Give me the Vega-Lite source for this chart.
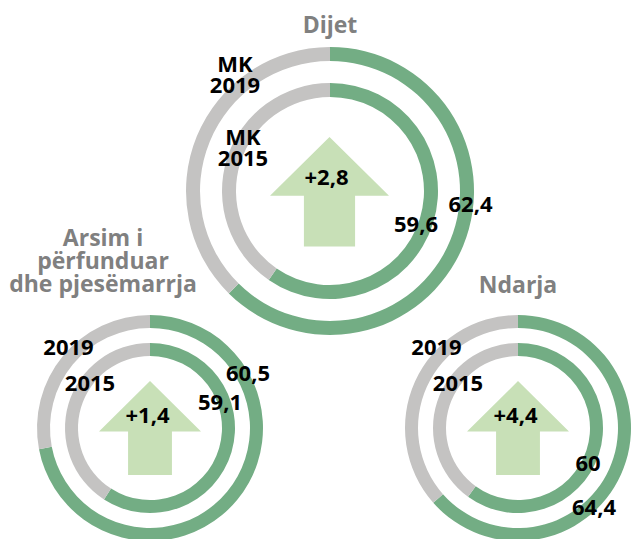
{
  "$schema": "https://vega.github.io/schema/vega-lite/v6.json",
  "width": 633,
  "height": 539,
  "autosize": {"type": "fit", "contains": "padding"},
  "padding": 0,
  "background": "#ffffff",
  "config": {
    "view": {"stroke": null},
    "locale": {"number": {"decimal": ",", "thousands": ".", "grouping": [3], "currency": ["", " €"]}},
    "text": {"font": "Open Sans", "fontWeight": "bold", "fontSize": 22, "baseline": "alphabetic", "align": "center", "color": "#000000"}
  },
  "datasets": {
    "rings": [
      {"indicator": "Dijet", "tier": "top", "year": 2019, "ringLabel": "MK\n2019", "value": 62.4, "arc": 62.4},
      {"indicator": "Dijet", "tier": "top", "year": 2015, "ringLabel": "MK\n2015", "value": 59.6, "arc": 59.6},
      {"indicator": "Arsim", "tier": "bottom", "year": 2019, "ringLabel": "2019", "value": 60.5, "arc": 72},
      {"indicator": "Arsim", "tier": "bottom", "year": 2015, "ringLabel": "2015", "value": 59.1, "arc": 59.1},
      {"indicator": "Ndarja", "tier": "bottom", "year": 2019, "ringLabel": "2019", "value": 64.4, "arc": 63.5},
      {"indicator": "Ndarja", "tier": "bottom", "year": 2015, "ringLabel": "2015", "value": 60, "arc": 60}
    ],
    "groups": [
      {"indicator": "Dijet", "tier": "top", "title": "Dijet", "change": 2.8},
      {"indicator": "Arsim", "tier": "bottom", "title": "Arsim i\npërfunduar\ndhe pjesëmarrja", "change": 1.4},
      {"indicator": "Ndarja", "tier": "bottom", "title": "Ndarja", "change": 4.4}
    ]
  },
  "encoding": {
    "x": {"field": "indicator", "type": "nominal", "scale": {"type": "point", "domain": ["Arsim", "Dijet", "Ndarja"], "range": [150, 518], "padding": 0}, "axis": null},
    "y": {"field": "tier", "type": "nominal", "scale": {"type": "point", "domain": ["top", "bottom"], "range": [191, 428], "padding": 0}, "axis": null}
  },
  "layer": [
    {"data": {"name": "rings"}, "transform": [{"filter": "datum.indicator === 'Dijet' && datum.year === 2019"}],
     "mark": {"type": "arc", "radius": 144, "radius2": 130, "color": "#73ad84", "xOffset": -4},
     "encoding": {"theta": {"field": "arc", "type": "quantitative", "stack": null, "scale": {"domain": [0, 100], "range": [0, 6.283185307179586]}}, "theta2": {"value": 0}}},
    {"data": {"name": "rings"}, "transform": [{"filter": "datum.indicator === 'Dijet' && datum.year === 2019"}],
     "mark": {"type": "arc", "radius": 144, "radius2": 130, "color": "#c4c3c2", "xOffset": -4},
     "encoding": {"theta": {"field": "arc", "type": "quantitative", "stack": null}, "theta2": {"value": 6.283185307179586}}},
    {"data": {"name": "rings"}, "transform": [{"filter": "datum.indicator === 'Dijet' && datum.year === 2015"}],
     "mark": {"type": "arc", "radius": 108, "radius2": 94, "color": "#73ad84", "xOffset": -4},
     "encoding": {"theta": {"field": "arc", "type": "quantitative", "stack": null}, "theta2": {"value": 0}}},
    {"data": {"name": "rings"}, "transform": [{"filter": "datum.indicator === 'Dijet' && datum.year === 2015"}],
     "mark": {"type": "arc", "radius": 108, "radius2": 94, "color": "#c4c3c2", "xOffset": -4},
     "encoding": {"theta": {"field": "arc", "type": "quantitative", "stack": null}, "theta2": {"value": 6.283185307179586}}},
    {"data": {"name": "rings"}, "transform": [{"filter": "datum.indicator !== 'Dijet' && datum.year === 2019"}],
     "mark": {"type": "arc", "radius": 113, "radius2": 100, "color": "#73ad84"},
     "encoding": {"theta": {"field": "arc", "type": "quantitative", "stack": null}, "theta2": {"value": 0}}},
    {"data": {"name": "rings"}, "transform": [{"filter": "datum.indicator !== 'Dijet' && datum.year === 2019"}],
     "mark": {"type": "arc", "radius": 113, "radius2": 100, "color": "#c4c3c2"},
     "encoding": {"theta": {"field": "arc", "type": "quantitative", "stack": null}, "theta2": {"value": 6.283185307179586}}},
    {"data": {"name": "rings"}, "transform": [{"filter": "datum.indicator !== 'Dijet' && datum.year === 2015"}],
     "mark": {"type": "arc", "radius": 85, "radius2": 72, "color": "#73ad84"},
     "encoding": {"theta": {"field": "arc", "type": "quantitative", "stack": null}, "theta2": {"value": 0}}},
    {"data": {"name": "rings"}, "transform": [{"filter": "datum.indicator !== 'Dijet' && datum.year === 2015"}],
     "mark": {"type": "arc", "radius": 85, "radius2": 72, "color": "#c4c3c2"},
     "encoding": {"theta": {"field": "arc", "type": "quantitative", "stack": null}, "theta2": {"value": 6.283185307179586}}},

    {"data": {"name": "groups"}, "transform": [{"filter": "datum.tier === 'top'"}],
     "mark": {"type": "point", "shape": "M0,-0.92L1,0.07L0.43,0.07L0.43,0.92L-0.43,0.92L-0.43,0.07L-1,0.07Z", "size": 14161, "filled": true, "color": "#c8e0b7", "opacity": 1, "strokeWidth": 0, "xOffset": -4.5, "yOffset": 0.7}},
    {"data": {"name": "groups"}, "transform": [{"filter": "datum.tier === 'bottom'"}],
     "mark": {"type": "point", "shape": "M0,-0.92L1,0.07L0.43,0.07L0.43,0.92L-0.43,0.92L-0.43,0.07L-1,0.07Z", "size": 10404, "filled": true, "color": "#c8e0b7", "opacity": 1, "strokeWidth": 0}},

    {"data": {"name": "groups"}, "transform": [{"filter": "datum.indicator === 'Dijet'"}],
     "mark": {"type": "text", "fontSize": 23, "color": "#808080", "dx": -4, "dy": -158},
     "encoding": {"text": {"field": "title"}}},
    {"data": {"name": "groups"}, "transform": [{"filter": "datum.indicator === 'Arsim'"}],
     "mark": {"type": "text", "fontSize": 23, "color": "#808080", "dx": -47, "dy": -182, "lineBreak": "\n", "lineHeight": 23},
     "encoding": {"text": {"field": "title"}}},
    {"data": {"name": "groups"}, "transform": [{"filter": "datum.indicator === 'Ndarja'"}],
     "mark": {"type": "text", "fontSize": 23, "color": "#808080", "dx": 0, "dy": -135},
     "encoding": {"text": {"field": "title"}}},

    {"data": {"name": "groups"}, "transform": [{"filter": "datum.tier === 'top'"}],
     "mark": {"type": "text", "dx": -7.5, "dy": -6},
     "encoding": {"text": {"field": "change", "type": "quantitative", "format": "+~g"}}},
    {"data": {"name": "groups"}, "transform": [{"filter": "datum.tier === 'bottom'"}],
     "mark": {"type": "text", "dx": -2.5, "dy": -5},
     "encoding": {"text": {"field": "change", "type": "quantitative", "format": "+~g"}}},

    {"data": {"name": "rings"}, "transform": [{"filter": "datum.indicator === 'Dijet' && datum.year === 2019"}],
     "mark": {"type": "text", "dx": -99, "dy": -119, "lineBreak": "\n", "lineHeight": 21},
     "encoding": {"text": {"field": "ringLabel"}}},
    {"data": {"name": "rings"}, "transform": [{"filter": "datum.indicator === 'Dijet' && datum.year === 2015"}],
     "mark": {"type": "text", "dx": -91, "dy": -46, "lineBreak": "\n", "lineHeight": 21},
     "encoding": {"text": {"field": "ringLabel"}}},
    {"data": {"name": "rings"}, "transform": [{"filter": "datum.indicator !== 'Dijet' && datum.year === 2019"}],
     "mark": {"type": "text", "dx": -81.5, "dy": -73},
     "encoding": {"text": {"field": "ringLabel"}}},
    {"data": {"name": "rings"}, "transform": [{"filter": "datum.indicator !== 'Dijet' && datum.year === 2015"}],
     "mark": {"type": "text", "dx": -60, "dy": -37},
     "encoding": {"text": {"field": "ringLabel"}}},

    {"data": {"name": "rings"}, "transform": [{"filter": "datum.indicator === 'Dijet' && datum.year === 2019"}],
     "mark": {"type": "text", "dx": 136.5, "dy": 21},
     "encoding": {"text": {"field": "value", "type": "quantitative", "format": "~g"}}},
    {"data": {"name": "rings"}, "transform": [{"filter": "datum.indicator === 'Dijet' && datum.year === 2015"}],
     "mark": {"type": "text", "dx": 82, "dy": 41},
     "encoding": {"text": {"field": "value", "type": "quantitative", "format": "~g"}}},
    {"data": {"name": "rings"}, "transform": [{"filter": "datum.indicator === 'Arsim' && datum.year === 2019"}],
     "mark": {"type": "text", "dx": 98, "dy": -47},
     "encoding": {"text": {"field": "value", "type": "quantitative", "format": "~g"}}},
    {"data": {"name": "rings"}, "transform": [{"filter": "datum.indicator === 'Arsim' && datum.year === 2015"}],
     "mark": {"type": "text", "dx": 70, "dy": -18},
     "encoding": {"text": {"field": "value", "type": "quantitative", "format": "~g"}}},
    {"data": {"name": "rings"}, "transform": [{"filter": "datum.indicator === 'Ndarja' && datum.year === 2019"}],
     "mark": {"type": "text", "dx": 76, "dy": 87},
     "encoding": {"text": {"field": "value", "type": "quantitative", "format": "~g"}}},
    {"data": {"name": "rings"}, "transform": [{"filter": "datum.indicator === 'Ndarja' && datum.year === 2015"}],
     "mark": {"type": "text", "dx": 70, "dy": 43},
     "encoding": {"text": {"field": "value", "type": "quantitative", "format": "~g"}}}
  ]
}
